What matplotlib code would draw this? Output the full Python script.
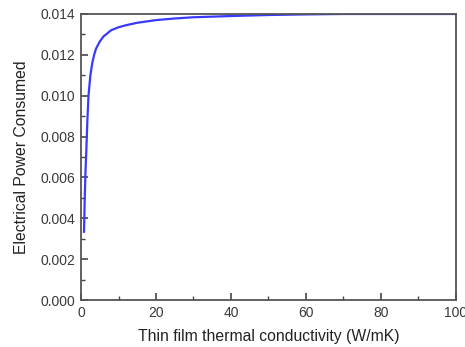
import matplotlib
matplotlib.use("Agg")
import matplotlib.pyplot as plt
from matplotlib.ticker import MultipleLocator, FormatStrFormatter

# Electrical power consumed vs. thin film thermal conductivity
conductivity = [0.8, 1.0, 1.2, 1.4, 1.7, 2.0, 2.5, 3.0, 3.5, 4.0, 5.0, 6.0, 7.0,
                8.0, 10.0, 12.0, 15.0, 20.0, 25.0, 30.0, 40.0, 50.0, 60.0, 70.0,
                80.0, 90.0, 100.0]
power = [0.00334, 0.0050, 0.0063, 0.0072, 0.0088, 0.0100, 0.0110, 0.0116, 0.0120,
         0.0123, 0.01265, 0.0129, 0.01305, 0.0132, 0.01335, 0.01345, 0.01357,
         0.0137, 0.01378, 0.01384, 0.0139, 0.01395, 0.01398, 0.0140, 0.0140,
         0.0140, 0.0140]

plt.rcParams['font.family'] = ['Liberation Sans', 'DejaVu Sans']

fig = plt.figure(figsize=(4.65, 3.47), dpi=100)
ax = fig.add_axes([0.1742, 0.1354, 0.8064, 0.8243])

ax.plot(conductivity, power, color='#3a3aff', lw=1.6)

ax.set_xlim(0, 100)
ax.set_ylim(0, 0.014)
ax.xaxis.set_major_locator(MultipleLocator(20))
ax.xaxis.set_minor_locator(MultipleLocator(10))
ax.yaxis.set_major_locator(MultipleLocator(0.002))
ax.yaxis.set_minor_locator(MultipleLocator(0.001))
ax.yaxis.set_major_formatter(FormatStrFormatter('%.3f'))

for s in ax.spines.values():
    s.set_color('#555555')
    s.set_linewidth(1.3)

ax.tick_params(which='both', direction='in', colors='#444444', labelcolor='#3a3a3a',
               top=False, right=False, labelsize=10, pad=4)
ax.tick_params(which='major', length=5, width=1.2)
ax.tick_params(which='minor', length=3, width=1.0)

ax.set_xlabel('Thin film thermal conductivity (W/mK)', fontsize=11.3,
              color='#222222', labelpad=7)
ax.set_ylabel('Electrical Power Consumed', fontsize=11.3, color='#222222',
              labelpad=8)

fig.savefig('out.png', dpi=100)
